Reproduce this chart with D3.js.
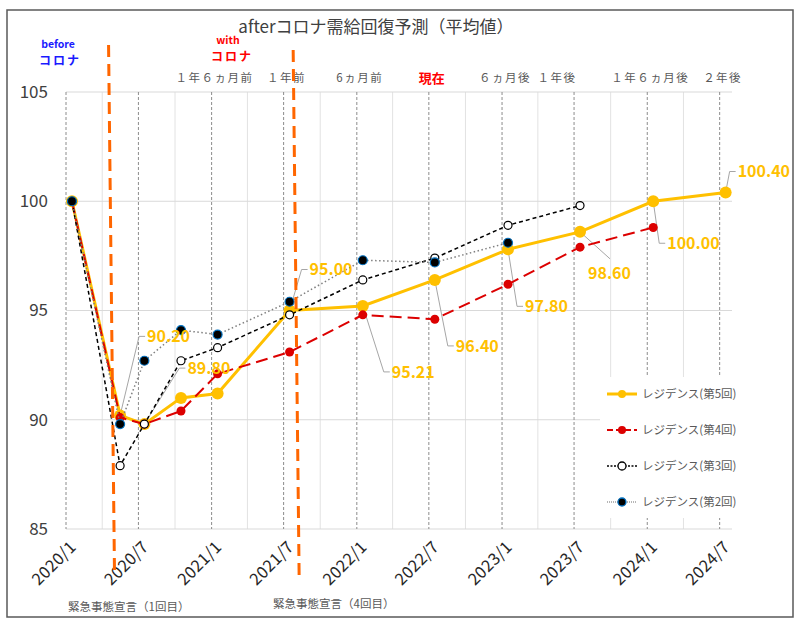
<!DOCTYPE html>
<html>
<head>
<meta charset="utf-8">
<script src="https://cdn.jsdelivr.net/npm/d3@7"></script>
<style>
body { margin: 0; background: #fff; }
text { font-family: "Noto Sans CJK JP", "Noto Sans", sans-serif; }
</style>
</head>
<body>
<svg width="800" height="626"></svg>
<script>
// data (index per survey month)
const months = ["2020-01", "2020-05", "2020-07", "2020-10", "2021-01", "2021-07",
	"2022-01", "2022-07", "2023-01", "2023-07", "2024-01", "2024-07"]
const round5 = [100, 90.2, 89.8, 91.0, 91.2, 95.0, 95.21, 96.4, 97.8, 98.6, 100.0, 100.4]
const round4 = [100, 90.1, 89.8, 90.4, 92.1, 93.1, 94.8, 94.6, 96.2, 97.9, 98.8, null]
const round3 = [100, 87.9, 89.8, 92.7, 93.3, 94.8, 96.4, 97.4, 98.9, 99.8, null, null]
const round2 = [100, 89.8, 92.7, 94.1, 93.9, 95.4, 97.3, 97.2, 98.1, null, null, null]
const seriesNames = ["レジデンス(第5回)", "レジデンス(第4回)", "レジデンス(第3回)", "レジデンス(第2回)"]
const yTicks = [85, 90, 95, 100, 105]

// relative-time labels above the plot
const topLabels = [
	{ text: "１年６ヵ月前", month: "2021-01" },
	{ text: "１年前", month: "2021-07" },
	{ text: "6ヵ月前", month: "2022-01" },
	{ text: "現在", month: "2022-07", red: true },
	{ text: "６ヵ月後", month: "2023-01" },
	{ text: "１年後", month: "2023-07", dx: -20 },
	{ text: "１年６ヵ月後", month: "2024-01" },
	{ text: "２年後", month: "2024-07" }
]
// emergency declarations (orange dashed markers)
const declarations = [
	{ text: "緊急事態宣言（1回目）", top: "2020-04-17", bottom: "2020-05-02" },
	{ text: "緊急事態宣言（4回目）", top: "2021-07-25", bottom: "2021-08-09" }
]
// which points of round 5 carry a value label, and where the label sits
const labelIdx = [1, 2, 5, 6, 7, 8, 9, 10, 11]
const labelOffsets = [[27, -79], [43, -56], [20, -41], [29, 66], [21, 66], [17, 57], [8, 42, "top"], [14, 42], [12, -21]]

const svg = d3.select("svg")
const parse = d3.timeParse("%Y-%m-%d")
const mid = m => parse(m + "-16")

const plotLeft = 66, plotRight = 732, plotTop = 92, plotBottom = 529

const x = d3.scaleTime()
	.domain([parse("2020-01-01"), parse("2024-08-01")])
	.range([plotLeft, plotRight])
const y = d3.scaleLinear().domain([85, 105]).range([plotBottom, plotTop])

svg.append("rect")
	.attr("x", 7).attr("y", 10).attr("width", 786).attr("height", 607)
	.attr("fill", "#fff").attr("stroke", "#595959").attr("stroke-width", 1.5)

// title
svg.append("text")
	.attr("x", 376).attr("y", 33)
	.attr("text-anchor", "middle")
	.attr("font-size", 17).attr("fill", "#404040")
	.text("afterコロナ需給回復予測（平均値）")

// grid
const grid = svg.append("g")
grid.selectAll(".minor")
	.data(d3.timeMonth.every(3).range(x.domain()[0], x.domain()[1]).filter(d => d.getMonth() % 6 !== 0))
	.join("line")
	.attr("x1", d => x(d)).attr("x2", d => x(d))
	.attr("y1", plotTop).attr("y2", plotBottom)
	.attr("stroke", "#e2e2e2").attr("stroke-width", 1)
grid.selectAll(".hgrid")
	.data(yTicks)
	.join("line")
	.attr("x1", plotLeft).attr("x2", plotRight)
	.attr("y1", d => y(d)).attr("y2", d => y(d))
	.attr("stroke", "#d9d9d9").attr("stroke-width", 1)

const majorTicks = d3.timeMonth.every(6).range(x.domain()[0], x.domain()[1])
grid.selectAll(".major")
	.data(majorTicks)
	.join("line")
	.attr("x1", d => x(d)).attr("x2", d => x(d))
	.attr("y1", plotTop).attr("y2", plotBottom)
	.attr("stroke", "#8c8c8c").attr("stroke-width", 1)
	.attr("stroke-dasharray", "3,2")

// y axis labels
svg.append("g").selectAll("text")
	.data(yTicks)
	.join("text")
	.attr("x", 48).attr("y", d => y(d))
	.attr("dy", "0.35em")
	.attr("text-anchor", "end")
	.attr("font-size", 17).attr("fill", "#404040")
	.text(d => d)

// x axis labels
const fmt = d3.timeFormat("%Y/%-m")
svg.append("g").selectAll("text")
	.data(majorTicks)
	.join("text")
	.attr("transform", d => `translate(${x(d) + 7},${plotBottom + 15}) rotate(-45)`)
	.attr("text-anchor", "end")
	.attr("dy", "0.35em")
	.attr("font-size", 16.5).attr("letter-spacing", 0.3).attr("fill", "#262626")
	.text(d => fmt(d))

// top labels
svg.append("g").selectAll("text")
	.data(topLabels)
	.join("text")
	.attr("x", d => x(mid(d.month)) - 3 + (d.dx || 0))
	.attr("y", 78)
	.attr("dy", "0.35em")
	.attr("text-anchor", "middle")
	.attr("font-size", d => d.red ? 13 : 11.5)
	.attr("font-weight", d => d.red ? "bold" : null)
	.attr("letter-spacing", d => d.red ? 0 : 1.5)
	.attr("fill", d => d.red ? "#ff0000" : "#595959")
	.text(d => d.text)

// before / with
const era = svg.append("g").attr("font-weight", "bold")
era.append("text").attr("x", 58).attr("y", 48).attr("text-anchor", "middle")
	.attr("font-size", 10.5).attr("fill", "#1a1aff").text("before")
era.append("text").attr("x", 60).attr("y", 65).attr("text-anchor", "middle")
	.attr("font-size", 12).attr("letter-spacing", 2).attr("fill", "#1a1aff").text("コロナ")
era.append("text").attr("x", 228).attr("y", 44).attr("text-anchor", "middle")
	.attr("font-size", 10.5).attr("fill", "#ff0000").text("with")
era.append("text").attr("x", 232).attr("y", 61).attr("text-anchor", "middle")
	.attr("font-size", 12).attr("letter-spacing", 2).attr("fill", "#ff0000").text("コロナ")

// legend background covers the grid
const legendX = 600, legendY = 377
svg.append("rect")
	.attr("x", legendX).attr("y", legendY).attr("width", 136).attr("height", 141)
	.attr("fill", "#fff")

// series definitions
const styles = [
	{ values: round5, stroke: "#ffc000", width: 3, dash: null, r: 6, fill: "#ffc000", mstroke: "none" },
	{ values: round4, stroke: "#dc0000", width: 2, dash: "12,6", r: 4.5, fill: "#dc0000", mstroke: "none" },
	{ values: round3, stroke: "#000", width: 1.5, dash: "4,3", r: 4, fill: "#fff", mstroke: "#000" },
	{ values: round2, stroke: "#7f7f7f", width: 1.5, dash: "1.5,2.5", r: 4.5, fill: "#000", mstroke: "#0070c0" }
]

// leader lines for the labels
const labelData = labelIdx.map((i, k) => ({
	px: x(mid(months[i])), py: y(round5[i]),
	dx: labelOffsets[k][0], dy: labelOffsets[k][1], kind: labelOffsets[k][2],
	v: round5[i]
}))
svg.append("g").selectAll("path")
	.data(labelData)
	.join("path")
	.attr("fill", "none").attr("stroke", "#a6a6a6").attr("stroke-width", 1)
	.attr("d", d => {
		const lx = d.px + d.dx, ly = d.py + d.dy
		if (d.kind === "top") return `M${lx + 22},${ly - 15}L${d.px},${d.py}`
		return `M${lx - 2},${ly}H${lx - 8}L${d.px},${d.py}`
	})

const line = d3.line()
	.defined(d => d.v != null)
	.x(d => x(d.date)).y(d => y(d.v))

styles.forEach(s => {
	const pts = months.map((m, i) => ({ date: mid(m), v: s.values[i] }))
	const g = svg.append("g")
	g.append("path")
		.datum(pts)
		.attr("fill", "none")
		.attr("stroke", s.stroke).attr("stroke-width", s.width)
		.attr("stroke-dasharray", s.dash)
		.attr("d", line)
	g.selectAll("circle")
		.data(pts.filter(d => d.v != null))
		.join("circle")
		.attr("cx", d => x(d.date)).attr("cy", d => y(d.v))
		.attr("r", s.r)
		.attr("fill", s.fill)
		.attr("stroke", s.mstroke).attr("stroke-width", 1.2)
})

// value labels
svg.append("g").selectAll("text")
	.data(labelData)
	.join("text")
	.attr("x", d => d.px + d.dx).attr("y", d => d.py + d.dy)
	.attr("dy", "0.35em")
	.attr("font-family", "'Liberation Sans', Arial, sans-serif")
	.attr("font-size", 16).attr("font-weight", "bold")
	.attr("fill", "#ffc000")
	.text(d => d3.format(".2f")(d.v))

// legend
const legend = svg.append("g").selectAll("g")
	.data(styles)
	.join("g")
	.attr("transform", (d, i) => `translate(${legendX + 7},${legendY + 17 + i * 36})`)
legend.append("line")
	.attr("x1", 0).attr("x2", 30)
	.attr("stroke", d => d.stroke).attr("stroke-width", d => d.width)
	.attr("stroke-dasharray", d => d.dash ? d.dash.split(",").map(v => v / 2).join(",") : null)
legend.append("circle")
	.attr("cx", 15).attr("r", 4)
	.attr("fill", d => d.fill).attr("stroke", d => d.mstroke).attr("stroke-width", 1.3)
legend.append("text")
	.attr("x", 35).attr("dy", "0.35em")
	.attr("font-size", 11.5).attr("fill", "#595959")
	.text((d, i) => seriesNames[i])

// emergency declaration markers
const decl = svg.append("g")
decl.selectAll("line")
	.data(declarations)
	.join("line")
	.attr("x1", d => x(parse(d.top))).attr("y1", (d, i) => i ? 50 : 45)
	.attr("x2", d => x(parse(d.bottom))).attr("y2", 576)
	.attr("stroke", "#ff6600").attr("stroke-width", 3)
	.attr("stroke-dasharray", "12,7")
decl.selectAll("text")
	.data(declarations)
	.join("text")
	.attr("x", (d, i) => i ? 273 : 68).attr("y", (d, i) => i ? 604 : 607)
	.attr("dy", "0.35em")
	.attr("font-size", 11.5).attr("fill", "#595959")
	.text(d => d.text)
</script>
</body>
</html>
